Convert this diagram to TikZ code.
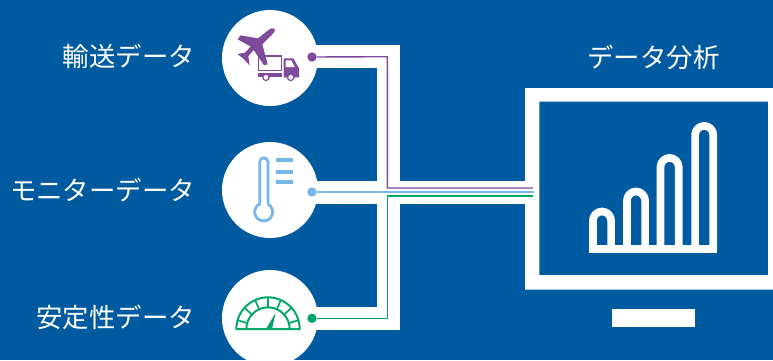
\documentclass[tikz,border=0pt]{standalone}
\usepackage{fontspec}
\usetikzlibrary{calc}
\setmainfont{Noto Sans CJK JP}
\definecolor{bg}{HTML}{005A9F}
\definecolor{purp}{HTML}{7F4A9C}
\definecolor{sky}{HTML}{76B7E8}
\definecolor{grn}{HTML}{00A868}
\tikzset{
  disc/.style={circle,fill=white,minimum size=96pt,inner sep=0pt},
  pipe/.style={line width=23pt,white,line join=miter},
  lbl/.style={text=white,font=\fontsize{26.4pt}{28pt}\selectfont,inner sep=0pt,anchor=east},
  dot/.style={circle,inner sep=0pt,minimum size=9.4pt},
  wire/.style={line width=1.4pt,line join=miter},
  bar/.style={line width=7.7pt,white,line join=round},
  zoomA/.style={x=0.33333pt,y=-0.33333pt}
}
\begin{document}
\begin{tikzpicture}[x=1pt,y=-1pt]
\useasboundingbox (0,0) rectangle (773,360);
\fill[bg] (0,0) rectangle (773,360);
% anchors
\coordinate (bendA) at (388.5,56.5);
\coordinate (bendC) at (388.5,318);
\coordinate (portB) at (530,192);
% pipes
\draw[pipe] (270,56.5) -- (bendA) -- (bendC) -- (270,318);
\draw[pipe] (270,192) -- (portB);
% monitor
\fill[white,even odd rule] (525,88) rectangle (773,289.5) (539.3,101.5) rectangle (768,275);
\fill[white] (612,309) rectangle (695,327);
% discs
\node[disc] (top) at (270,58) {};
\node[disc] (mid) at (270,190) {};
\node[disc] (bot) at (270,318) {};
% wires
\node[dot,fill=purp] (dA) at (312,57) {};
\node[dot,fill=sky] (dB) at (312,192) {};
\node[dot,fill=grn] (dC) at (312,318.3) {};
\coordinate (wA1) at (387.3,56.7);
\coordinate (wA2) at (387.3,188);
\coordinate (wA3) at (533,188);
\coordinate (wB) at (534,192);
\coordinate (wC1) at (387.3,318.3);
\coordinate (wC2) at (387.3,196);
\coordinate (wC3) at (533,196);
\draw[wire,purp] (dA) -- (wA1) -- (wA2) -- (wA3);
\draw[wire,sky,line width=2pt] (dB) -- (wB);
\draw[wire,grn] (dC) -- (wC1) -- (wC2) -- (wC3);
% labels
\node[lbl] (l1) at (195,56) {輸送データ};
\node[lbl] (l2) at (195,190) {モニターデータ};
\node[lbl] (l3) at (195,317) {安定性データ};
\node[lbl,anchor=center] (l4) at (653.5,57) {データ分析};
% bar chart
\draw[bar] (589,249.3) -- (716.7,249.3);
\draw[bar] (592.9,249) -- (592.9,220.6) arc[start angle=180,end angle=360,radius=9.1] -- (611.1,249);
\draw[bar] (626.9,249) -- (626.9,200.6) arc[start angle=180,end angle=360,radius=9.1] -- (645.1,249);
\draw[bar] (660.5,249) -- (660.5,167) arc[start angle=180,end angle=360,radius=9.1] -- (678.7,249);
\draw[bar] (695.1,249) -- (695.1,135) arc[start angle=180,end angle=360,radius=9.1] -- (713.3,249);
% plane and truck
\begin{scope}[shift={(220,0)},zoomA]
\fill[purp,line join=round] (163,86) .. controls (168,92) and (160,100) .. (154,106) -- (127,133) -- (143,193) -- (132,196) -- (101,150) -- (85,168) -- (89,196) -- (70,176) -- (52,162) -- (75,158) -- (92,140) -- (53,118) -- (62,106) -- (114,115) -- (143,92) .. controls (150,86) and (158,82) .. (163,86) -- cycle;
\draw[purp,line width=1.1pt] (115,190) -- (115,168) -- (185,168) -- (185,212) -- (115,212) -- (115,190);
\fill[purp] (113,219) rectangle (185,231);
\fill[purp] (191,175) -- (220,175) -- (237,205) -- (237,232) -- (191,232) -- cycle;
\fill[white] (197,181) -- (214,181) -- (224,201) -- (197,201) -- cycle;
\filldraw[fill=white,draw=purp,line width=1.2pt] (138,232) circle[radius=9.5];
\filldraw[fill=white,draw=purp,line width=1.2pt] (212,232) circle[radius=9.5];
\end{scope}
% thermometer
\begin{scope}[shift={(220,130)},zoomA]
\draw[sky,line width=2.8pt] (119,224) -- (119,96) arc[start angle=180,end angle=360,radius=12.5] -- (144,224);
\draw[sky,line width=2.8pt] (131,246) circle[radius=27];
\fill[white] (123,212) rectangle (140,226);
\fill[sky] (168,84) rectangle (218,96);
\fill[sky] (168,119) rectangle (218,131);
\fill[sky] (168,150) rectangle (218,162);
\end{scope}
% gauge
\begin{scope}[shift={(220,250)},zoomA]
\draw[grn,line width=2pt,line join=miter] (49,237) arc[start angle=180,end angle=360,radius=95] -- cycle;
\draw[grn,line width=2pt] (79,237) arc[start angle=180,end angle=360,radius=65];
\foreach \a in {16,42,66,90,114,138,164}
  \draw[grn,line width=1.7pt] ($(144,237)+(\a:65 and -65)$) -- ($(144,237)+(\a:95 and -95)$);
\fill[grn] (138,237) -- (156,237) -- (167,188) -- cycle;
\end{scope}
\end{tikzpicture}
\end{document}
